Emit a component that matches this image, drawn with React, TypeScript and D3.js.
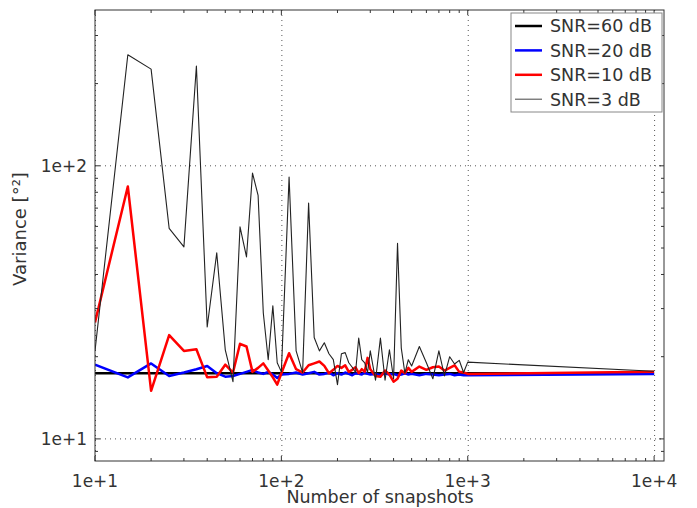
import React from "react";
import * as d3 from "d3";

// number of snapshots (x)
const snapshots = [
  10, 15, 20, 25, 30, 35, 40, 45, 50, 55, 60, 65, 70, 75, 80, 85, 90, 95, 100,
  110, 120, 130, 140, 150, 160, 170, 180, 190, 200, 210, 220, 230, 240, 250, 260, 270, 280, 290, 300,
  320, 340, 360, 380, 400, 420, 440, 460, 480, 500,
  550, 600, 650, 700, 750, 800, 850, 900, 950, 1000,
  10000,
];

// variance [deg^2] per SNR
const snr60 = [
  17.4, 17.4, 17.4, 17.4, 17.4, 17.4, 17.4, 17.4, 17.4, 17.4, 17.4, 17.4, 17.4, 17.4, 17.4, 17.4, 17.4, 17.4, 17.4,
  17.4, 17.4, 17.4, 17.4, 17.4, 17.4, 17.4, 17.4, 17.4, 17.4, 17.4, 17.4, 17.4, 17.4, 17.4, 17.4, 17.4, 17.4, 17.4, 17.4,
  17.4, 17.4, 17.4, 17.4, 17.4, 17.4, 17.4, 17.4, 17.4, 17.4,
  17.4, 17.4, 17.4, 17.4, 17.4, 17.4, 17.4, 17.4, 17.4, 17.4,
  17.4,
];
const snr20 = [
  18.7, 16.8, 18.9, 17.0, 17.5, 18.0, 18.5, 17.4, 16.9, 17.0, 17.3, 17.6, 17.9, 17.5, 17.3, 17.6, 17.2, 16.7, 17.2,
  17.3, 17.5, 17.2, 17.4, 17.6, 17.2, 17.3, 17.5, 17.1, 17.4, 17.2, 17.5, 17.3, 17.1, 17.4, 17.3, 17.2, 17.5, 17.3, 17.2,
  17.3, 17.1, 17.4, 17.2, 17.3, 17.1, 17.2, 17.4, 17.2, 17.3,
  17.1, 17.3, 17.2, 17.1, 17.2, 17.3, 17.1, 17.2, 17.1, 17.1,
  17.3,
];
const snr10 = [
  26.7, 84, 15.0, 24.0, 21.0, 21.3, 16.8, 16.9, 18.7, 17.5, 22.3, 21.8, 17.6, 18.2, 18.9, 17.8, 16.8, 15.8, 17.4,
  20.6, 18.0, 17.5, 18.6, 18.9, 19.2, 18.5, 17.4, 17.9, 18.5, 18.2, 18.6, 17.6, 17.9, 18.3, 17.4, 18.0, 17.6, 19.8, 18.0,
  17.0, 16.9, 17.8, 17.2, 16.2, 16.6, 17.8, 17.4, 18.2, 17.6,
  18.4, 17.9, 18.3, 18.4, 17.8, 18.2, 18.6, 17.6, 17.5, 17.3,
  17.6,
];
const snr3 = [
  21, 255, 226, 59, 50.5, 232, 25.7, 48, 21.2, 16.2, 59.8, 46.4, 94, 78, 28.9, 19.5, 30.7, 19, 17.6,
  91, 21, 17.5, 73, 23.5, 21, 22.5, 20.5, 19.5, 15.8, 20.5, 20.7, 19, 18.3, 17.5, 23.4, 19.5, 19, 17.5, 21,
  16.4, 23.4, 16.4, 21.2, 16.6, 52, 21.5, 17.4, 19.5, 18.5,
  21.8, 19, 16.6, 21, 17, 20, 18.8, 19.4, 17.5, 19.1,
  17.7,
];

const seriesNames = ["SNR=60 dB", "SNR=20 dB", "SNR=10 dB", "SNR=3 dB"];
const seriesValues = [snr60, snr20, snr10, snr3];
const seriesColors = ["#000000", "#0000ff", "#ff0000", "#222222"];
const seriesWidths = [2.5, 2.5, 2.5, 1.1];

const xMajor = [10, 100, 1000, 10000];
const yMajor = [10, 100];

const width = 697,
  height = 508,
  left = 95,
  right = 664,
  top = 10,
  bottom = 461;

export default function App() {
  const x = d3.scaleLog().domain([10, 11300]).range([left, right]);
  const y = d3.scaleLog().domain([8.3, 372]).range([bottom, top]);

  const line = d3
    .line<[number, number]>()
    .x((d) => x(d[0]))
    .y((d) => y(d[1]));

  const xMinor = x.ticks().filter((t) => !xMajor.includes(t));
  const yMinor = y.ticks().filter((t) => !yMajor.includes(t));

  const fmt = (v: number) => "1e+" + Math.round(Math.log10(v));
  const font = "'DejaVu Sans', sans-serif";
  const textColor = "#333";

  return (
    <svg
      width={width}
      height={height}
      style={{ position: "absolute", left: 0, top: 0, background: "#fff" }}
      fontFamily={font}
    >
      <defs>
        <clipPath id="plot">
          <rect x={left} y={top} width={right - left} height={bottom - top} />
        </clipPath>
      </defs>

      {/* grid */}
      <g stroke="#555" strokeWidth={1} strokeDasharray="1,4">
        {xMajor.map((t) => (
          <line key={"gx" + t} x1={x(t) + 0.5} x2={x(t) + 0.5} y1={top} y2={bottom} />
        ))}
        {yMajor.map((t) => (
          <line key={"gy" + t} x1={left} x2={right} y1={y(t)} y2={y(t)} />
        ))}
      </g>

      {/* series */}
      <g clipPath="url(#plot)" fill="none" strokeLinejoin="round">
        {seriesValues.map((vals, i) => (
          <path
            key={seriesNames[i]}
            d={line(snapshots.map((s, j) => [s, vals[j]] as [number, number])) || ""}
            stroke={seriesColors[i]}
            strokeWidth={seriesWidths[i]}
          />
        ))}
      </g>

      {/* frame + ticks */}
      <g stroke="#333" strokeWidth={1}>
        <rect x={left} y={top} width={right - left} height={bottom - top} fill="none" />
        {xMajor.map((t) => (
          <g key={"xt" + t}>
            <line x1={x(t)} x2={x(t)} y1={bottom} y2={bottom - 5} />
            <line x1={x(t)} x2={x(t)} y1={top} y2={top + 5} />
          </g>
        ))}
        {xMinor.map((t) => (
          <g key={"xm" + t}>
            <line x1={x(t)} x2={x(t)} y1={bottom} y2={bottom - 3} />
            <line x1={x(t)} x2={x(t)} y1={top} y2={top + 3} />
          </g>
        ))}
        {yMajor.map((t) => (
          <g key={"yt" + t}>
            <line x1={left} x2={left + 5} y1={y(t)} y2={y(t)} />
            <line x1={right} x2={right - 5} y1={y(t)} y2={y(t)} />
          </g>
        ))}
        {yMinor.map((t) => (
          <g key={"ym" + t}>
            <line x1={left} x2={left + 3} y1={y(t)} y2={y(t)} />
            <line x1={right} x2={right - 3} y1={y(t)} y2={y(t)} />
          </g>
        ))}
      </g>

      {/* tick labels */}
      <g fill={textColor} fontSize={17}>
        {xMajor.map((t) => (
          <text key={"xl" + t} x={x(t)} y={487} textAnchor="middle">
            {fmt(t)}
          </text>
        ))}
        {yMajor.map((t) => (
          <text key={"yl" + t} x={87} y={y(t)} dy="0.35em" textAnchor="end">
            {fmt(t)}
          </text>
        ))}
      </g>

      {/* axis labels */}
      <text x={380} y={503} textAnchor="middle" fontSize={17.5} fill={textColor}>
        Number of snapshots
      </text>
      <text
        transform={`translate(26,229) rotate(-90)`}
        textAnchor="middle"
        fontSize={18}
        fill={textColor}
      >
        Variance [°²]
      </text>

      {/* legend */}
      <g>
        <rect x={511} y={13} width={151} height={99} fill="#fff" stroke="#888" strokeWidth={1} />
        {seriesNames.map((name, i) => (
          <g key={"lg" + name} transform={`translate(0,${26 + i * 24.4})`}>
            <line x1={515} x2={542} y1={0} y2={0} stroke={seriesColors[i] === "#222222" ? "#555" : seriesColors[i]} strokeWidth={seriesWidths[i]} />
            <text x={550} y={0} dy="0.36em" fontSize={17.5} fill={textColor}>
              {name}
            </text>
          </g>
        ))}
      </g>
    </svg>
  );
}
